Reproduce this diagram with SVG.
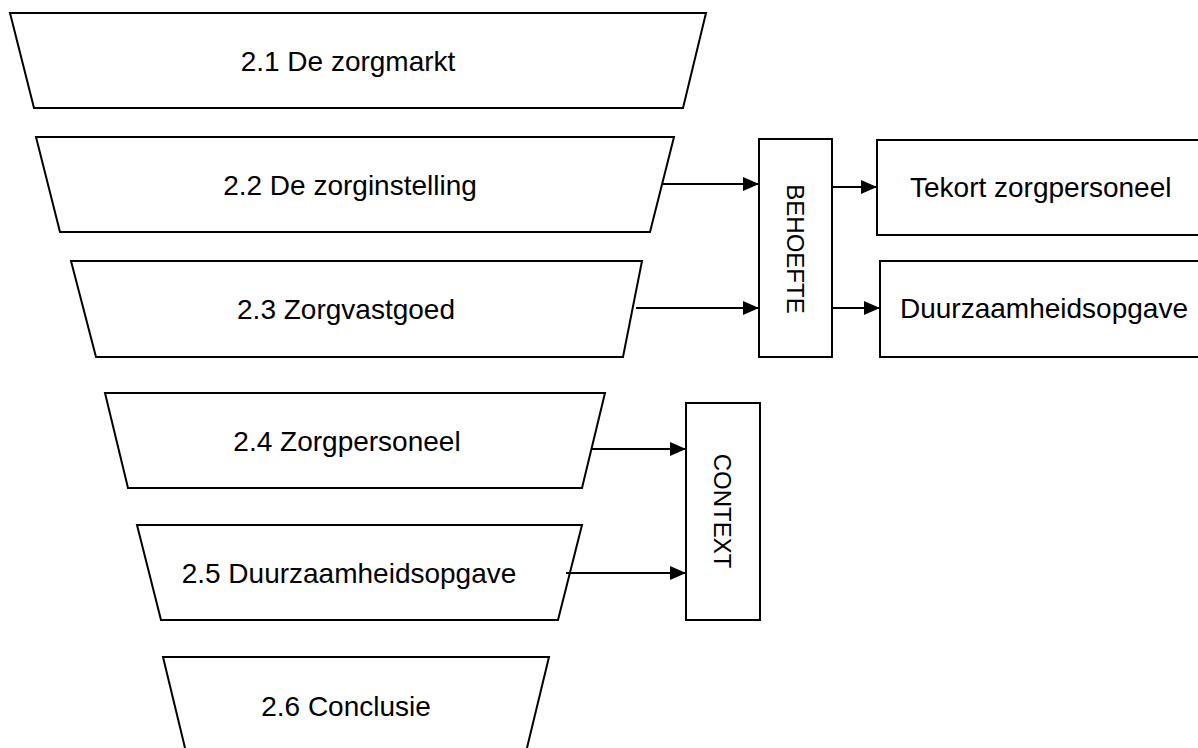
<svg xmlns="http://www.w3.org/2000/svg" width="1198" height="748" viewBox="0 0 1198 748">
  <defs>
    <marker id="arrow" viewBox="0 0 16 14" refX="16" refY="7" markerWidth="16" markerHeight="14" markerUnits="userSpaceOnUse" orient="auto">
      <path d="M0,0 L16,7 L0,14 Z" fill="#000"/>
    </marker>
    <style>
      .shape { fill: #fff; stroke: #000; stroke-width: 2; stroke-linejoin: miter; }
      .label { font-family: "Liberation Sans", Arial, sans-serif; font-size: 28px; fill: #000; }
      .mid { text-anchor: middle; }
      .vlabel { font-family: "Liberation Sans", Arial, sans-serif; font-size: 24px; fill: #000; text-anchor: middle; }
      .link { fill: none; stroke: #000; stroke-width: 2; marker-end: url(#arrow); }
    </style>
  </defs>
  <rect width="1198" height="748" fill="#fff"/>

  <!-- funnel of chapter sections -->
  <g id="sec-2-1">
    <polygon class="shape" points="10,13 706,13 683,108 34,108"/>
    <text class="label mid" x="348" y="71">2.1 De zorgmarkt</text>
  </g>
  <g id="sec-2-2">
    <polygon class="shape" points="36,137 674,137 650,232 60,232"/>
    <text class="label mid" x="350" y="195">2.2 De zorginstelling</text>
  </g>
  <g id="sec-2-3">
    <polygon class="shape" points="71,261 642,261 623,357 96,357"/>
    <text class="label mid" x="346" y="319">2.3 Zorgvastgoed</text>
  </g>
  <g id="sec-2-4">
    <polygon class="shape" points="105,393 605,393 582,488 128,488"/>
    <text class="label mid" x="347" y="451">2.4 Zorgpersoneel</text>
  </g>
  <g id="sec-2-5">
    <polygon class="shape" points="137,525 582,525 558,620 161,620"/>
    <text class="label mid" x="349" y="583">2.5 Duurzaamheidsopgave</text>
  </g>
  <g id="sec-2-6">
    <polygon class="shape" points="163,657 549,657 526,752 186,752"/>
    <text class="label mid" x="346" y="716">2.6 Conclusie</text>
  </g>

  <!-- vertical category boxes -->
  <g id="behoefte">
    <rect class="shape" x="759" y="139" width="73" height="218"/>
    <text class="vlabel" transform="translate(795.5,249) rotate(90)" x="0" y="8.6">BEHOEFTE</text>
  </g>
  <g id="context">
    <rect class="shape" x="686" y="403" width="74" height="217"/>
    <text class="vlabel" transform="translate(723,511) rotate(90)" x="0" y="8.6">CONTEXT</text>
  </g>

  <!-- outcome boxes, running past the right edge -->
  <g id="tekort">
    <rect class="shape" x="877" y="140" width="340" height="95"/>
    <text class="label" x="910" y="197">Tekort zorgpersoneel</text>
  </g>
  <g id="duurzaam">
    <rect class="shape" x="880" y="261" width="340" height="96"/>
    <text class="label" x="900" y="318">Duurzaamheidsopgave</text>
  </g>

  <!-- connectors -->
  <g id="connectors">
    <line class="link" x1="662" y1="184" x2="759" y2="184"/>
    <line class="link" x1="636" y1="308" x2="759" y2="308"/>
    <line class="link" x1="832" y1="187" x2="877" y2="187"/>
    <line class="link" x1="832" y1="308" x2="880" y2="308"/>
    <line class="link" x1="592" y1="449" x2="686" y2="449"/>
    <line class="link" x1="566" y1="573" x2="686" y2="573"/>
  </g>
</svg>
